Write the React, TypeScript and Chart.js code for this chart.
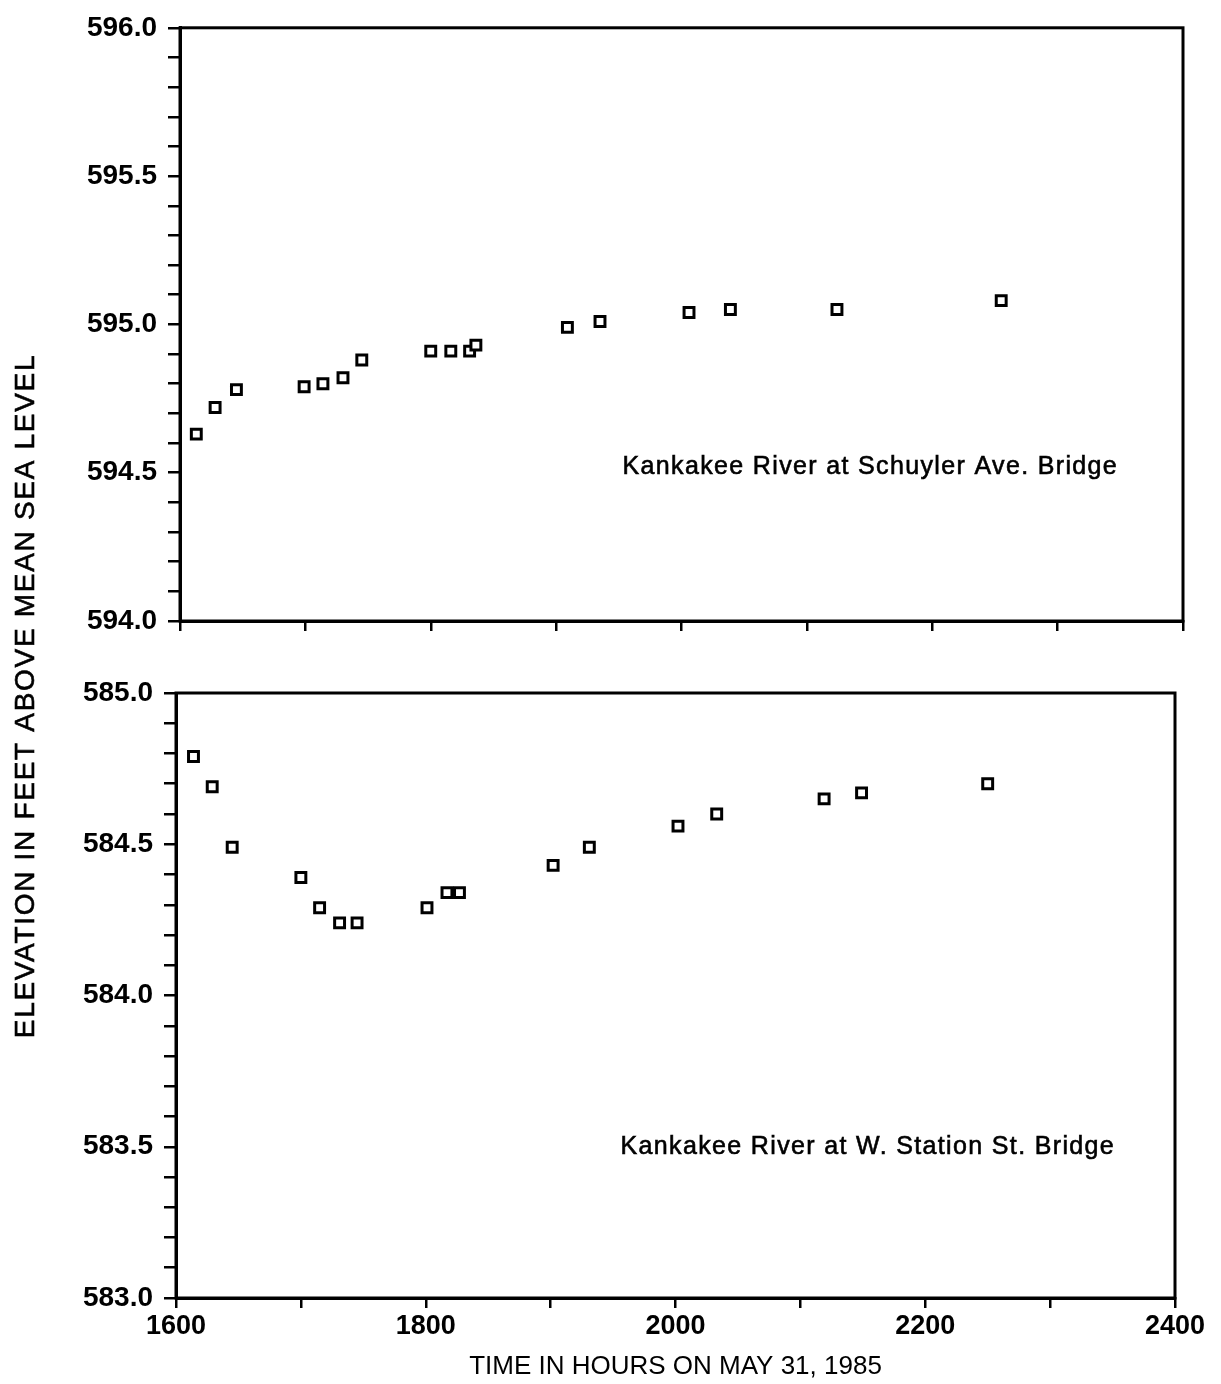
import React, { useEffect, useRef } from 'react';
import { Chart, registerables } from 'chart.js';

Chart.register(...registerables);

// ---- Data ----
const timeLabelTicks = [1600, 1800, 2000, 2200, 2400];

const schuylerTimes = [1613, 1628, 1645, 1699, 1714, 1730, 1745, 1800, 1816, 1831, 1836, 1909, 1935, 2006, 2039, 2124, 2255];
const schuylerElev = [594.63, 594.72, 594.78, 594.79, 594.80, 594.82, 594.88, 594.91, 594.91, 594.91, 594.93, 594.99, 595.01, 595.04, 595.05, 595.05, 595.08];

const stationTimes = [1614, 1629, 1645, 1700, 1715, 1731, 1745, 1801, 1817, 1827, 1902, 1931, 2002, 2033, 2119, 2149, 2250];
const stationElev = [584.79, 584.69, 584.49, 584.39, 584.29, 584.24, 584.24, 584.29, 584.34, 584.34, 584.43, 584.49, 584.56, 584.60, 584.65, 584.67, 584.70];

const topLabel = 'Kankakee River at Schuyler Ave. Bridge';
const bottomLabel = 'Kankakee River at W. Station St. Bridge';
const xTitle = 'TIME IN HOURS ON MAY 31, 1985';
const yTitle = 'ELEVATION IN FEET ABOVE MEAN SEA LEVEL';

const W = 1221;
const H = 1384;
const FONT = "'Liberation Sans', Arial, Helvetica, sans-serif";

const framePlugin = {
  id: 'frame',
  afterDraw(chart: any) {
    const { ctx, chartArea: a } = chart;
    ctx.save();
    ctx.strokeStyle = '#000';
    ctx.lineWidth = 3;
    ctx.strokeRect(a.left, a.top, a.right - a.left, a.bottom - a.top);
    ctx.restore();
  },
};

const annotPlugin = {
  id: 'annot',
  afterDraw(chart: any, _args: any, opts: any) {
    if (!opts || !opts.text) return;
    const { ctx, scales } = chart;
    const px = scales.x.getPixelForValue(opts.x);
    const py = scales.y.getPixelForValue(opts.y);
    ctx.save();
    ctx.font = `25px ${FONT}`;
    (ctx as any).letterSpacing = '1.35px';
    ctx.fillStyle = '#000';
    ctx.strokeStyle = '#000';
    ctx.lineWidth = 0.6;
    ctx.textAlign = 'left';
    ctx.textBaseline = 'middle';
    ctx.fillText(opts.text, px, py);
    ctx.strokeText(opts.text, px, py);
    ctx.restore();
  },
};

const yTitlePlugin = {
  id: 'ytitle',
  afterDraw(chart: any, _args: any, opts: any) {
    if (!opts || !opts.text) return;
    const { ctx } = chart;
    ctx.save();
    ctx.translate(opts.cx, opts.cy);
    ctx.rotate(-Math.PI / 2);
    ctx.font = `28px ${FONT}`;
    (ctx as any).letterSpacing = '1.7px';
    ctx.fillStyle = '#000';
    ctx.strokeStyle = '#000';
    ctx.lineWidth = 0.6;
    ctx.textAlign = 'center';
    ctx.textBaseline = 'middle';
    ctx.fillText(opts.text, 0, 0);
    ctx.strokeText(opts.text, 0, 0);
    ctx.restore();
  },
};

function yScale(min: number, max: number) {
  return {
    type: 'linear' as const,
    min,
    max,
    afterFit: (s: any) => {
      s.width = 170;
    },
    border: { display: true, color: '#000', width: 3 },
    grid: { drawOnChartArea: false, drawTicks: true, tickLength: 12, color: '#000', lineWidth: 2.5 },
    ticks: {
      stepSize: 0.1,
      autoSkip: false,
      padding: 11,
      color: '#000',
      font: { family: FONT, size: 28, weight: 'bold' as const },
      callback: (v: any) => (Math.abs(v * 2 - Math.round(v * 2)) < 1e-6 ? Number(v).toFixed(1) : ''),
    },
  };
}

function xScale(showLabels: boolean, height: number) {
  return {
    type: 'linear' as const,
    min: 1600,
    max: 2400,
    afterFit: (s: any) => {
      s.height = height;
    },
    border: { display: true, color: '#000', width: 3 },
    grid: { drawOnChartArea: false, drawTicks: true, tickLength: 10, color: '#000', lineWidth: 2.5 },
    ticks: {
      stepSize: 100,
      autoSkip: false,
      maxRotation: 0,
      padding: 2,
      color: '#000',
      font: { family: FONT, size: 27, weight: 'bold' as const },
      callback: (v: any) => (showLabels && timeLabelTicks.includes(Number(v)) ? String(v) : ''),
    },
    title: showLabels
      ? {
          display: true,
          text: xTitle,
          color: '#000',
          font: { family: FONT, size: 26 },
          padding: { top: 0, bottom: 2 },
        }
      : { display: false },
  };
}

function dataset(times: number[], elev: number[]) {
  return {
    data: times.map((t, i) => ({ x: t, y: elev[i] })),
    showLine: false,
    pointStyle: 'rect' as const,
    pointRadius: 7,
    pointBorderWidth: 3,
    pointBorderColor: '#000',
    pointBackgroundColor: '#fff',
    borderColor: '#000',
    backgroundColor: '#fff',
  };
}

export default function App() {
  const topRef = useRef<HTMLCanvasElement>(null);
  const botRef = useRef<HTMLCanvasElement>(null);

  useEffect(() => {
    const top = new Chart(topRef.current as HTMLCanvasElement, {
      type: 'scatter',
      data: { datasets: [dataset(schuylerTimes, schuylerElev)] },
      options: {
        animation: false,
        responsive: false,
        devicePixelRatio: 1,
        layout: { padding: { left: 10, right: 38, top: 25, bottom: H - 621 - 20 } },
        plugins: {
          legend: { display: false },
          tooltip: { enabled: false },
          annot: { text: topLabel, x: 1953, y: 594.52 },
        } as any,
        scales: {
          x: xScale(false, 20),
          y: yScale(594, 596),
        } as any,
      },
      plugins: [framePlugin, annotPlugin],
    });

    const bottom = new Chart(botRef.current as HTMLCanvasElement, {
      type: 'scatter',
      data: { datasets: [dataset(stationTimes, stationElev)] },
      options: {
        animation: false,
        responsive: false,
        devicePixelRatio: 1,
        layout: { padding: { left: 6, right: 46, top: 693, bottom: 0 } },
        plugins: {
          legend: { display: false },
          tooltip: { enabled: false },
          annot: { text: bottomLabel, x: 1956, y: 583.5 },
          ytitle: { text: yTitle, cx: 26, cy: 696 },
        } as any,
        scales: {
          x: xScale(true, 86),
          y: yScale(583, 585),
        } as any,
      },
      plugins: [framePlugin, annotPlugin, yTitlePlugin],
    });

    return () => {
      top.destroy();
      bottom.destroy();
    };
  }, []);

  return (
    <div style={{ position: 'absolute', left: 0, top: 0, width: W, height: H, background: '#fff' }}>
      <canvas ref={botRef} width={W} height={H} style={{ position: 'absolute', left: 0, top: 0 }} />
      <canvas ref={topRef} width={W} height={H} style={{ position: 'absolute', left: 0, top: 0 }} />
    </div>
  );
}
